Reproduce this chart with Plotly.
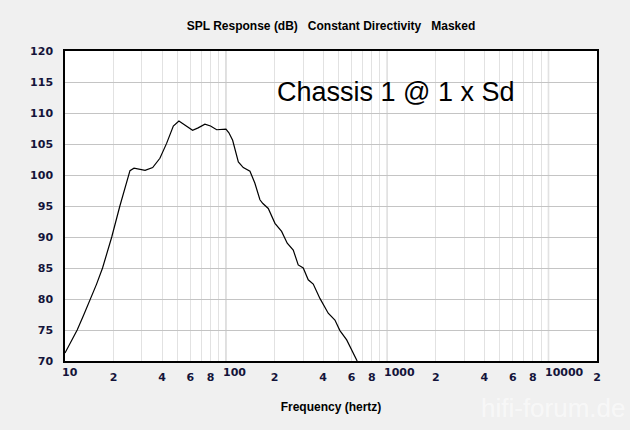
import math
import plotly.graph_objects as go

# ---- data ----
freq_hz = [10, 11.0, 11.9, 13.1, 14.4, 15.7, 17.1, 18.3, 19.5, 21.9, 24.0, 25.3, 26.8, 29.0, 31.4, 35.0, 38.8,
           42.7, 47.0, 50.9, 56.0, 61.9, 67.0, 73.8, 80.0, 87.3, 99.7, 104.0, 109.7,
           119.0, 127.7, 140.5, 150.6, 162.0, 169.0, 182.5, 200.8, 220.8, 239.3,
           260.8, 280.0, 300.8, 323.0, 347.0, 381.7, 429.8, 473.0, 508.0, 559.5, 650.0]
spl_db = [71.3, 73.2, 75.0, 77.5, 80.0, 82.4, 85.0, 87.4, 90.0, 95.0, 98.8, 100.7, 101.1, 100.9, 100.75, 101.2, 102.7,
          105.1, 107.9, 108.7, 108.0, 107.2, 107.6, 108.2, 107.9, 107.3, 107.4, 106.8, 105.6,
          102.1, 101.2, 100.6, 98.7, 96.0, 95.4, 94.6, 92.2, 90.9, 89.0,
          87.9, 85.5, 85.0, 83.1, 82.4, 80.1, 77.7, 76.6, 74.9, 73.4, 70.0]

x_tick_vals = [10, 20, 40, 60, 80, 100, 200, 400, 600, 800, 1000, 2000, 4000, 6000, 8000, 10000, 20000]
x_tick_text = ["10", "2", "4", "6", "8", "100", "2", "4", "6", "8", "1000", "2", "4", "6", "8", "10000", "2"]
x_minor_vals = [30, 50, 70, 90, 300, 500, 700, 900, 3000, 5000, 7000, 9000]
decades = [100, 1000, 10000]
y_tick_vals = [70, 75, 80, 85, 90, 95, 100, 105, 110, 115, 120]

title_text = "SPL Response (dB)\u00a0\u00a0\u00a0Constant Directivity\u00a0\u00a0\u00a0Masked"
label_text = "Chassis 1 @ 1 x Sd"

BG = "#F0F0F0"
TICKFONT = dict(family="DejaVu Sans", size=11, color="#14143a", weight="bold")
STANDOFF = 5

# single-digit labels are centred on their gridline; multi-digit labels
# start just left of it (drawn as left-anchored texts below)
x_tick_disp = [t if len(t) == 1 else "" for t in x_tick_text]

fig = go.Figure()
fig.add_trace(go.Scatter(x=freq_hz, y=spl_db, mode="lines",
                         line=dict(color="black", width=1.2), hoverinfo="skip"))

for d in decades:
    fig.add_shape(type="line", xref="x", yref="paper", x0=d, x1=d, y0=0, y1=1,
                  line=dict(color="#BEBEBE", width=1.3), layer="between")

for v, t in zip(x_tick_vals, x_tick_text):
    if len(t) > 1:
        fig.add_annotation(text=t, xref="x", yref="paper", x=math.log10(v),
                           y=0, xanchor="left", yanchor="top", xshift=-4.5,
                           yshift=-STANDOFF + 1, showarrow=False, font=TICKFONT,
                           borderpad=0)

fig.update_layout(
    width=630, height=430,
    margin=dict(l=65, r=33, t=51, b=69, autoexpand=False),
    paper_bgcolor=BG, plot_bgcolor="white",
    showlegend=False,
    title=dict(text="<b>" + title_text + "</b>", x=0.5, xanchor="center",
               y=1 - 26 / 430, yanchor="middle", xref="paper",
               font=dict(family="Liberation Sans", size=12, color="black")),
    font=dict(family="DejaVu Sans"),
)

fig.update_xaxes(
    type="log", range=[1, 4.30103], automargin=False,
    tickvals=x_tick_vals, ticktext=x_tick_disp, tickfont=TICKFONT, tickangle=0,
    ticks="", ticklabelstandoff=STANDOFF,
    showgrid=True, gridcolor="#E2E2E2", gridwidth=1,
    minor=dict(tickvals=x_minor_vals, showgrid=True, gridcolor="#E2E2E2", ticks=""),
    showline=True, linecolor="black", linewidth=1.5, mirror=True,
    zeroline=False,
    title=dict(text="<b>Frequency (hertz)</b>", standoff=20,
               font=dict(family="Liberation Sans", size=12, color="black")),
)
fig.update_yaxes(
    range=[70, 120], tickvals=y_tick_vals, tickfont=TICKFONT, automargin=False,
    ticks="", ticklabelstandoff=8,
    showgrid=True, gridcolor="#C4C4C4", gridwidth=1,
    showline=True, linecolor="black", linewidth=1.5, mirror=True,
    zeroline=False,
)

fig.add_annotation(text=label_text, xref="paper", yref="paper",
                   x=(396 - 65) / 532, y=(361 - 92) / 310, xanchor="center", yanchor="middle",
                   showarrow=False,
                   font=dict(family="Liberation Sans", size=27, color="black"))

fig.add_annotation(text="hifi-forum.de", xref="paper", yref="paper",
                   x=(628 - 65) / 532, y=(361 - 408) / 310, xanchor="right", yanchor="middle",
                   showarrow=False,
                   font=dict(family="Liberation Sans", size=26, color="rgba(255,255,255,0.55)"))

fig.write_html("out.html")
